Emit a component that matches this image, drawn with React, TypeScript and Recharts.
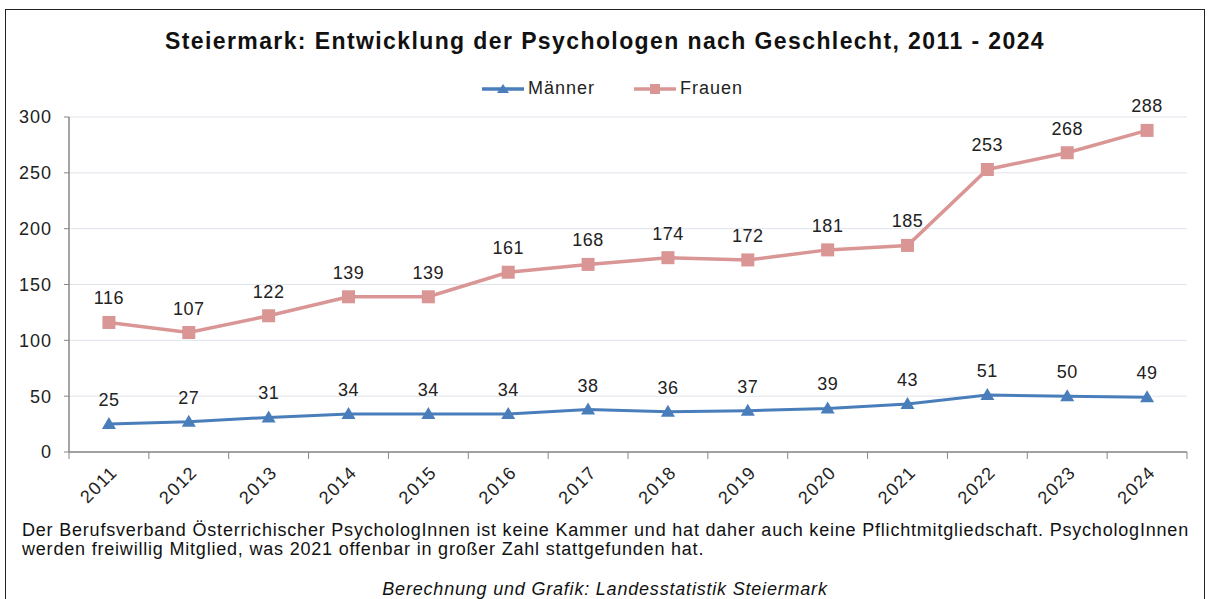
import React from 'react';
import { LineChart, Line, XAxis, YAxis, CartesianGrid, LabelList } from 'recharts';

const years = [2011, 2012, 2013, 2014, 2015, 2016, 2017, 2018, 2019, 2020, 2021, 2022, 2023, 2024];
const maenner = [25, 27, 31, 34, 34, 34, 38, 36, 37, 39, 43, 51, 50, 49];
const frauen = [116, 107, 122, 139, 139, 161, 168, 174, 172, 181, 185, 253, 268, 288];
const yTicks = [0, 50, 100, 150, 200, 250, 300];

const data = years.map((year, i) => ({ year: String(year), maenner: maenner[i], frauen: frauen[i] }));

const FONT = '"Liberation Sans", Arial, sans-serif';
const BLUE = '#4a7ebb';
const PINK = '#d99694';
const AXIS = '#868686';

const PLOT_LEFT = 69;
const PLOT_RIGHT = 1187;
const BAND = (PLOT_RIGHT - PLOT_LEFT) / years.length;

const Triangle = (props: any) => {
  const { cx, cy } = props;
  if (cx == null || cy == null) return null;
  return <path d={`M${cx - 7},${cy + 5} L${cx + 7},${cy + 5} L${cx},${cy - 7} Z`} fill={BLUE} />;
};

const Square = (props: any) => {
  const { cx, cy } = props;
  if (cx == null || cy == null) return null;
  return <rect x={cx - 6.5} y={cy - 6.5} width={13} height={13} fill={PINK} />;
};

// year label rotated, plus tick marks at category boundaries (Excel style)
const YearTick = (props: any) => {
  const { x, y, payload, index } = props;
  const tx = x + 5;
  const ty = y + 17;
  return (
    <g>
      <line x1={x - BAND / 2} x2={x - BAND / 2} y1={y} y2={y + 7} stroke={AXIS} />
      {index === years.length - 1 && (
        <line x1={x + BAND / 2} x2={x + BAND / 2} y1={y} y2={y + 7} stroke={AXIS} />
      )}
      <text
        x={tx}
        y={ty}
        textAnchor="end"
        fontSize={18}
        letterSpacing={1.2}
        fill="#222"
        fontFamily={FONT}
        transform={`rotate(-45, ${tx}, ${ty})`}
        dy="0.35em"
      >
        {payload.value}
      </text>
    </g>
  );
};

const LegendItem = ({ color, label, marker, left }: { color: string; label: string; marker: 'tri' | 'sq'; left: number }) => (
  <div style={{ position: 'absolute', left, top: 78, display: 'flex', alignItems: 'center' }}>
    <svg width={44} height={16}>
      <line x1={1} x2={43} y1={8} y2={8} stroke={color} strokeWidth={3.5} />
      {marker === 'tri' ? (
        <path d="M16,12 L28,12 L22,3 Z" fill={color} />
      ) : (
        <rect x={17} y={3} width={10} height={10} fill={color} />
      )}
    </svg>
    <span style={{ marginLeft: 3, fontSize: 18, letterSpacing: 1, color: '#222' }}>{label}</span>
  </div>
);

export default function App() {
  return (
    <div style={{ position: 'absolute', left: 0, top: 0, width: 1210, height: 599, background: '#fff', fontFamily: FONT, overflow: 'hidden' }}>
      <div style={{ position: 'absolute', left: 5, top: 9, width: 1200, height: 640, border: '1.5px solid #222', boxSizing: 'border-box' }} />

      <div style={{ position: 'absolute', left: 0, width: 1210, top: 28, textAlign: 'center', fontSize: 23, fontWeight: 'bold', letterSpacing: 1.4, color: '#111' }}>
        Steiermark: Entwicklung der Psychologen nach Geschlecht, 2011 - 2024
      </div>

      <LegendItem color={BLUE} label="Männer" marker="tri" left={481} />
      <LegendItem color={PINK} label="Frauen" marker="sq" left={633} />

      <div style={{ position: 'absolute', left: 0, top: 0 }}>
        <LineChart width={1210} height={599} data={data} margin={{ top: 117, right: 1210 - PLOT_RIGHT, bottom: 87, left: 0 }}>
          <CartesianGrid vertical={false} stroke="#dfe3ea" />
          <XAxis
            dataKey="year"
            height={60}
            padding={{ left: BAND / 2, right: BAND / 2 }}
            tickLine={false}
            tickSize={0}
            tickMargin={0}
            axisLine={{ stroke: AXIS, strokeWidth: 1.5 }}
            tick={<YearTick />}
            interval={0}
          />
          <YAxis
            width={PLOT_LEFT}
            domain={[0, 300]}
            ticks={yTicks}
            tickSize={5}
            tickMargin={12}
            tickLine={{ stroke: AXIS }}
            axisLine={{ stroke: AXIS, strokeWidth: 1.5 }}
            tick={{ fill: '#222', fontSize: 18, letterSpacing: 1, fontFamily: FONT }}
          />
          <Line
            dataKey="maenner"
            name="Männer"
            stroke={BLUE}
            strokeWidth={3}
            dot={<Triangle />}
            activeDot={false}
            isAnimationActive={false}
          >
            <LabelList dataKey="maenner" position="top" offset={18} fill="#222" fontSize={18} letterSpacing={0.5} fontFamily={FONT} />
          </Line>
          <Line
            dataKey="frauen"
            name="Frauen"
            stroke={PINK}
            strokeWidth={3.5}
            dot={<Square />}
            activeDot={false}
            isAnimationActive={false}
          >
            <LabelList dataKey="frauen" position="top" offset={18} fill="#222" fontSize={18} letterSpacing={0.5} fontFamily={FONT} />
          </Line>
        </LineChart>
      </div>

      <div style={{ position: 'absolute', left: 22, top: 521, fontSize: 18, letterSpacing: 0.8, lineHeight: '19px', color: '#111', whiteSpace: 'nowrap' }}>
        Der Berufsverband Österrichischer PsychologInnen ist keine Kammer und hat daher auch keine Pflichtmitgliedschaft. PsychologInnen
        <br />
        werden freiwillig Mitglied, was 2021 offenbar in großer Zahl stattgefunden hat.
      </div>

      <div style={{ position: 'absolute', left: 0, width: 1210, top: 579, textAlign: 'center', fontSize: 18, letterSpacing: 0.8, fontStyle: 'italic', color: '#111' }}>
        Berechnung und Grafik: Landesstatistik Steiermark
      </div>
    </div>
  );
}
